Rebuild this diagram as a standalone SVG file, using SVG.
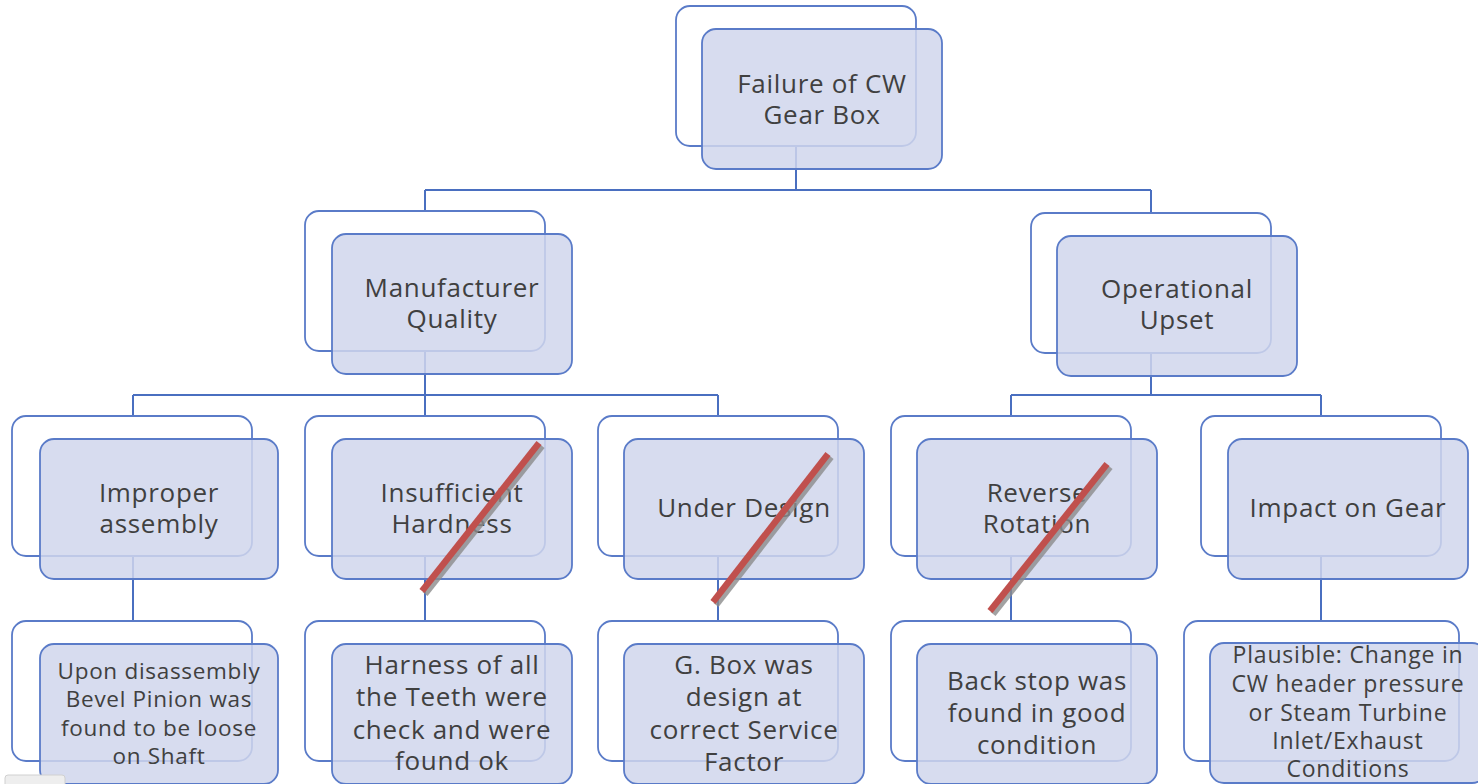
<svg xmlns="http://www.w3.org/2000/svg" width="1478" height="784" viewBox="0 0 1478 784">
<style>
.bk{fill:#ffffff;stroke:#5A7BC8;stroke-width:1.8}
.fr{fill:#D0D6EC;fill-opacity:0.85;stroke:#5A7BC8;stroke-width:1.8}
.cn{fill:none;stroke:#4A6FC0;stroke-width:2}
.t{font-family:"Open Sans","DejaVu Sans",sans-serif;font-size:26px;letter-spacing:0.7px;fill:#404040;text-anchor:middle}
.s{font-family:"Open Sans","DejaVu Sans",sans-serif;font-size:22.5px;letter-spacing:0.7px;fill:#404040;text-anchor:middle}
.s2{font-family:"Open Sans","DejaVu Sans",sans-serif;font-size:23px;letter-spacing:0.8px;fill:#404040;text-anchor:middle}
.strike{stroke:#C0504D;stroke-width:6.5;stroke-linecap:butt}
.shadow{stroke:#8C8C8C;stroke-width:6.5;opacity:0.8}
</style>
<rect width="1478" height="784" fill="#ffffff"/>
<g id="connectors">
<path class="cn" d="M796 146V190M425 190H1151M425 190V211M1151 190V213"/>
<path class="cn" d="M425 351V395M133 395H718M133 395V416M425 395V416M718 395V416"/>
<path class="cn" d="M1151 353V395M1011 395H1321M1011 395V416M1321 395V416"/>
<path class="cn" d="M133 556V621M425 556V621M718 556V621M1011 556V621M1321 556V621"/>
</g>
<g id="n-root">
<rect class="bk" x="676" y="6" width="240" height="140" rx="14"/>
<rect class="fr" x="702" y="29" width="240" height="140" rx="14"/>
<text class="t" x="822" y="93">Failure of CW</text>
<text class="t" x="822" y="124">Gear Box</text>
</g>
<g id="n-manufacturer">
<rect class="bk" x="305" y="211" width="240" height="140" rx="14"/>
<rect class="fr" x="332" y="234" width="240" height="140" rx="14"/>
<text class="t" x="452" y="297">Manufacturer</text>
<text class="t" x="452" y="328">Quality</text>
</g>
<g id="n-operational">
<rect class="bk" x="1031" y="213" width="240" height="140" rx="14"/>
<rect class="fr" x="1057" y="236" width="240" height="140" rx="14"/>
<text class="t" x="1177" y="298">Operational</text>
<text class="t" x="1177" y="329">Upset</text>
</g>
<g id="n-improper">
<rect class="bk" x="12" y="416" width="240" height="140" rx="14"/>
<rect class="fr" x="40" y="439" width="238" height="140" rx="14"/>
<text class="t" x="159" y="502">Improper</text>
<text class="t" x="159" y="533">assembly</text>
</g>
<g id="n-insufficient">
<rect class="bk" x="305" y="416" width="240" height="140" rx="14"/>
<rect class="fr" x="332" y="439" width="240" height="140" rx="14"/>
<text class="t" x="452" y="502">Insufficient</text>
<text class="t" x="452" y="533">Hardness</text>
</g>
<g id="n-underdesign">
<rect class="bk" x="598" y="416" width="240" height="140" rx="14"/>
<rect class="fr" x="624" y="439" width="240" height="140" rx="14"/>
<text class="t" x="744" y="517">Under Design</text>
</g>
<g id="n-reverse">
<rect class="bk" x="891" y="416" width="240" height="140" rx="14"/>
<rect class="fr" x="917" y="439" width="240" height="140" rx="14"/>
<text class="t" x="1037" y="502">Reverse</text>
<text class="t" x="1037" y="533">Rotation</text>
</g>
<g id="n-impact">
<rect class="bk" x="1201" y="416" width="240" height="140" rx="14"/>
<rect class="fr" x="1228" y="439" width="240" height="140" rx="14"/>
<text class="t" x="1348" y="517">Impact on Gear</text>
</g>
<g id="n-leaf-bevel">
<rect class="bk" x="12" y="621" width="240" height="140" rx="14"/>
<rect class="fr" x="40" y="644" width="238" height="140" rx="14"/>
<text class="s" x="159" y="679">Upon disassembly</text>
<text class="s" x="159" y="707">Bevel Pinion was</text>
<text class="s" x="159" y="736">found to be loose</text>
<text class="s" x="159" y="764">on Shaft</text>
</g>
<g id="n-leaf-harness">
<rect class="bk" x="305" y="621" width="240" height="140" rx="14"/>
<rect class="fr" x="332" y="644" width="240" height="140" rx="14"/>
<text class="t" x="452" y="674">Harness of all</text>
<text class="t" x="452" y="706">the Teeth were</text>
<text class="t" x="452" y="739">check and were</text>
<text class="t" x="452" y="770">found ok</text>
</g>
<g id="n-leaf-gbox">
<rect class="bk" x="598" y="621" width="240" height="140" rx="14"/>
<rect class="fr" x="624" y="644" width="240" height="140" rx="14"/>
<text class="t" x="744" y="674">G. Box was</text>
<text class="t" x="744" y="706">design at</text>
<text class="t" x="744" y="739">correct Service</text>
<text class="t" x="744" y="771">Factor</text>
</g>
<g id="n-leaf-backstop">
<rect class="bk" x="891" y="621" width="240" height="140" rx="14"/>
<rect class="fr" x="917" y="644" width="240" height="140" rx="14"/>
<text class="t" x="1037" y="690">Back stop was</text>
<text class="t" x="1037" y="722">found in good</text>
<text class="t" x="1037" y="754">condition</text>
</g>
<g id="n-leaf-plausible">
<rect class="bk" x="1184" y="621" width="275" height="140" rx="14"/>
<rect class="fr" x="1210" y="643" width="276" height="140" rx="14"/>
<text class="s2" x="1348" y="663">Plausible: Change in</text>
<text class="s2" x="1348" y="692">CW header pressure</text>
<text class="s2" x="1348" y="721">or Steam Turbine</text>
<text class="s2" x="1348" y="749">Inlet/Exhaust</text>
<text class="s2" x="1348" y="777">Conditions</text>
</g>
<g id="strikes">
<line class="shadow" x1="425" y1="594" x2="542" y2="446"/>
<line class="strike" x1="422" y1="591" x2="539" y2="443"/>
<line class="shadow" x1="716" y1="605" x2="831" y2="457"/>
<line class="strike" x1="713" y1="602" x2="828" y2="454"/>
<line class="shadow" x1="993" y1="614" x2="1110" y2="467"/>
<line class="strike" x1="990" y1="611" x2="1107" y2="464"/>
</g>
<rect x="5" y="775" width="60" height="12" rx="3" fill="#EEEEEE" stroke="#D0D0D0" stroke-width="1"/>
</svg>
